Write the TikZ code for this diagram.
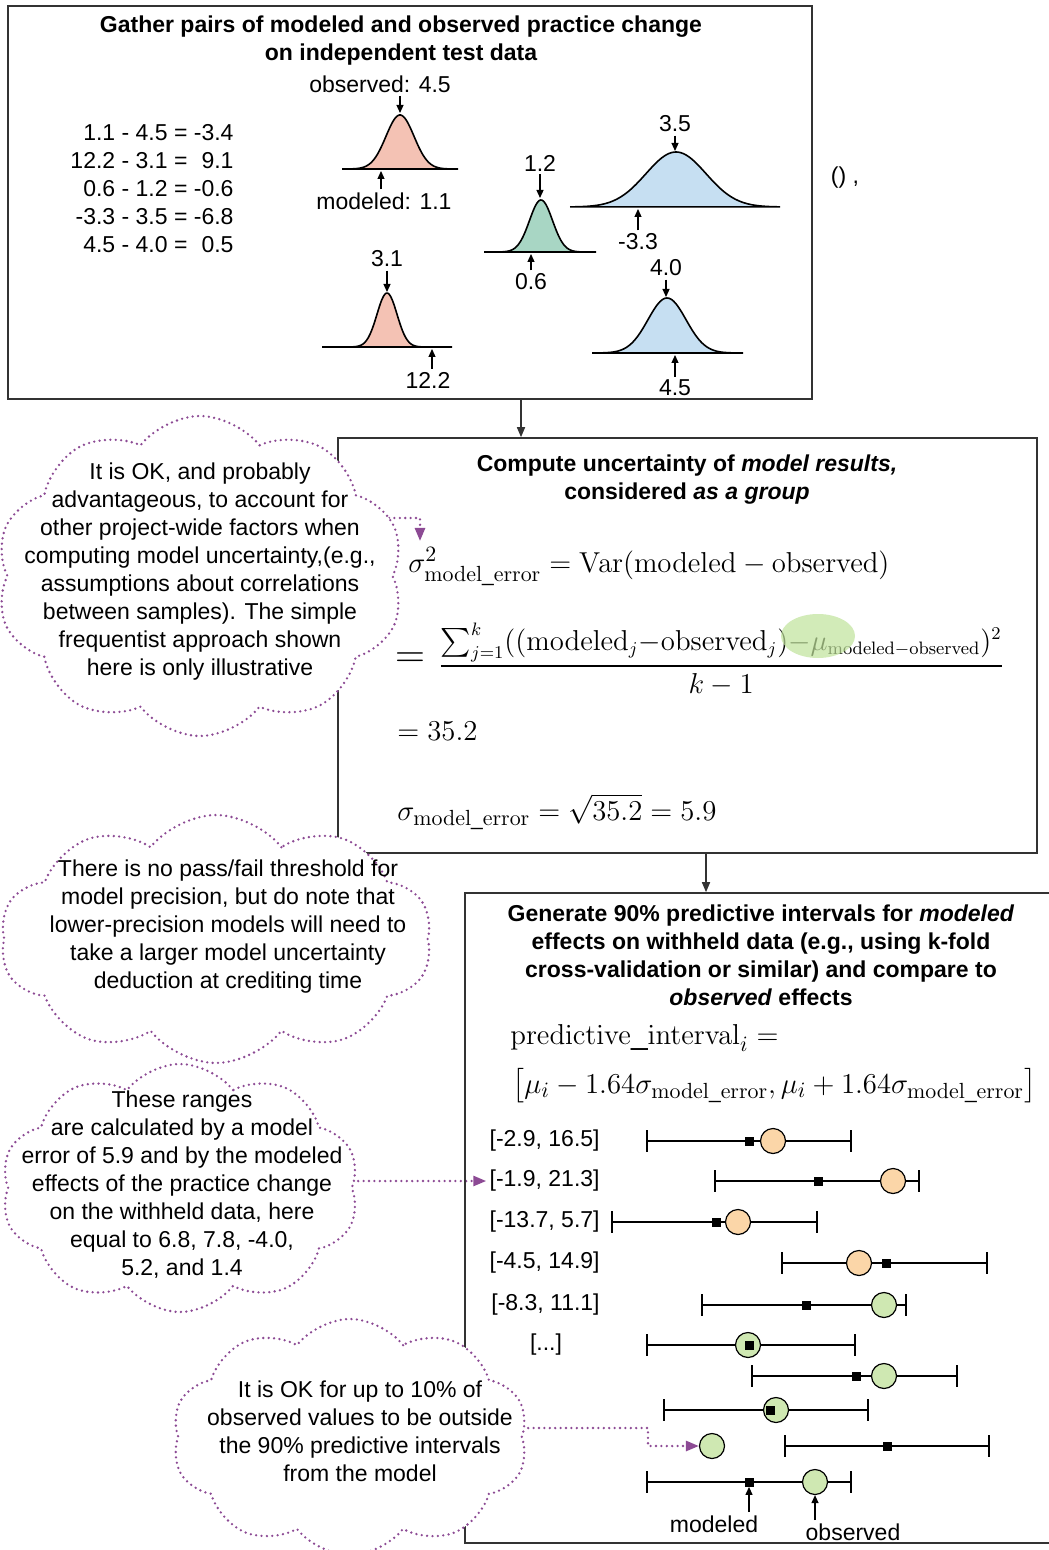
\documentclass[tikz,border=0pt]{standalone}
\usepackage{amsmath}
\usepackage[no-math]{fontspec}
\setmainfont{Liberation Sans}
\usetikzlibrary{positioning, calc, shapes.symbols, arrows.meta, backgrounds}

\definecolor{pinkfill}{HTML}{F4C2B4}
\definecolor{tealfill}{HTML}{A8D6C4}
\definecolor{bluefill}{HTML}{C6DFF2}
\definecolor{orangefill}{HTML}{FBD6A8}
\definecolor{greenfill}{HTML}{CFE8B2}
\definecolor{markgreen}{HTML}{BFE29A}
\definecolor{notepurple}{HTML}{8C4A94}
\definecolor{frame}{HTML}{333333}

\tikzset{
  box/.style={draw=frame, line width=0.8pt, inner sep=0pt},
  heading/.style={font=\fontsize{11.5}{14}\selectfont\bfseries, align=center, inner sep=0pt},
  lbl/.style={font=\fontsize{11.5}{14}\selectfont, inner sep=1.5pt},
  eqn/.style={font=\fontsize{15}{18}\selectfont, anchor=base west, inner sep=0pt},
  pointer/.style={-{Triangle[length=4pt,width=3.5pt]}, line width=0.6pt},
  flow/.style={-{Triangle[length=5pt,width=4pt]}, draw=frame, line width=0.8pt},
  bump/.style={line width=0.8pt},
  whisker/.style={line width=0.6pt},
  obs/.style={circle, draw, line width=0.6pt, minimum size=12.5pt, inner sep=0pt},
  mod/.style={rectangle, fill=black, minimum size=4.5pt, inner sep=0pt},
  cloudy/.style={cloud, cloud puffs=10, cloud puff arc=105, cloud ignores aspect, draw=notepurple, fill=white,
    line width=1.3pt, dash pattern=on 0pt off 2.7pt, line cap=round, inner sep=0pt},
  note/.style={font=\fontsize{11.5}{14}\selectfont, align=center, inner sep=0pt},
  hint/.style={draw=notepurple, line width=1.3pt, dash pattern=on 0pt off 2.7pt, line cap=round,
    -{Triangle[length=6.5pt,width=5pt,fill=notepurple]}}
}

\begin{document}
\begin{tikzpicture}[x=0.5pt, y=-0.5pt, font=\fontsize{11.5}{14}\selectfont]
\useasboundingbox (0,0) rectangle (1048,1550);

% step 1: pairs
\node (gather) at (410,202.5) [box, minimum width=402pt, minimum height=196.5pt] {};
\node (gatherhead) at (401,41) [heading] {Gather pairs of modeled and observed practice change\\on independent test data};
\node (diffs) at (152,191) [lbl] {\begin{tabular}{@{}r@{ = }r@{}}
  1.1 - 4.5 & -3.4\\ 12.2 - 3.1 & 9.1\\ 0.6 - 1.2 & -0.6\\ -3.3 - 3.5 & -6.8\\ 4.5 - 4.0 & 0.5
\end{tabular}};
\node (stray) at (845,178) [lbl] {()~,};

\foreach \bs/\m/\sd/\h/\lo/\hi/\col in {169/400/14/54/342/458/pinkfill, 252/541/11.5/52/484/596/tealfill,
  207/676/30/55/570/780/bluefill, 347/387/10/54/322/452/pinkfill, 353/667/19/55/592/743/bluefill}
  \draw[bump, fill=\col] plot[domain=\lo:\hi, samples=90, smooth]
    (\x, {\bs-\h*exp(-0.5*((\x-\m)/\sd)*((\x-\m)/\sd))}) -- cycle;

\coordinate (peakA) at (400,113); \coordinate (footA) at (381,171);
\coordinate (peakB) at (540,198); \coordinate (footB) at (531,254);
\coordinate (peakC) at (675,151); \coordinate (footC) at (638,209);
\coordinate (peakD) at (387,292); \coordinate (footD) at (432,349);
\coordinate (peakE) at (666,297); \coordinate (footE) at (675,355);

\node (obsA) at (380,84) [lbl] {observed: 4.5};
\node (modA) at (384,201) [lbl] {modeled: 1.1};
\node (obsB) at (540,163) [lbl] {1.2};
\node (modB) at (531,282) [lbl] {0.6};
\node (obsC) at (675,124) [lbl] {3.5};
\node (modC) at (638,242) [lbl] {-3.3};
\node (obsD) at (387,259) [lbl] {3.1};
\node (modD) at (428,380) [lbl] {12.2};
\node (obsE) at (666,268) [lbl] {4.0};
\node (modE) at (675,388) [lbl] {4.5};

\draw[pointer] (obsA.south -| peakA) -- (peakA);
\draw[pointer] (modA.north -| footA) -- (footA);
\draw[pointer] (obsB.south -| peakB) -- (peakB);
\draw[pointer] (modB.north -| footB) -- (footB);
\draw[pointer] (obsC.south -| peakC) -- (peakC);
\draw[pointer] (modC.north -| footC) -- (footC);
\draw[pointer] (obsD.south -| peakD) -- (peakD);
\draw[pointer] (modD.north -| footD) -- (footD);
\draw[pointer] (obsE.south -| peakE) -- (peakE);
\draw[pointer] (modE.north -| footE) -- (footE);

% step 2: uncertainty
\node (compute) at (687.5,645.5) [box, minimum width=349.5pt, minimum height=207.5pt] {};
\node (computehead) at (687,480) [heading] {Compute uncertainty of \textit{model results,}\\considered \textit{as a group}};
\node (vareq) at (408,572) [eqn] {$\sigma^2_{\mathrm{model\_error}} = \mathrm{Var}(\mathrm{modeled} - \mathrm{observed})$};
\node (bigeq) at (410,660) [font=\fontsize{22}{22}\selectfont, inner sep=0pt] {$=$};
\node (fraceq) at (438,659) [eqn, anchor=west, font=\fontsize{13.5}{16}\selectfont] {$\dfrac{\sum_{j=1}^{k}((\mathrm{modeled}_j{-}\mathrm{observed}_j){-}\mu_{\mathrm{modeled-observed}})^2}{k-1}$};
\node (valeq) at (397,740) [eqn] {$= 35.2$};
\node (sdeq) at (397,820) [eqn] {$\sigma_{\mathrm{model\_error}} = \sqrt{35.2} = 5.9$};
\fill[markgreen, opacity=0.7] (818,636) ellipse [x radius=18.5pt, y radius=11pt];

% step 3: intervals
\node (predict) at (767.5,1218) [box, minimum width=302.5pt, minimum height=325pt] {};
\node (predicthead) at (761,955) [heading] {Generate 90\% predictive intervals for \textit{modeled}\\effects on withheld data (e.g., using k-fold\\cross-validation or similar) and compare to\\\textit{observed} effects};
\node (pieq) at (510,1044) [eqn] {$\mathrm{predictive\_interval}_i =$};
\node (boundeq) at (512,1093) [eqn] {$\bigl[\mu_i - 1.64\sigma_{\mathrm{model\_error}}, \mu_i + 1.64\sigma_{\mathrm{model\_error}}\bigr]$};

\node (r1) at (603,1141) [lbl, anchor=east] {[-2.9, 16.5]};
\node (r2) at (603,1181) [lbl, anchor=east] {[-1.9, 21.3]};
\node (r3) at (603,1222) [lbl, anchor=east] {[-13.7, 5.7]};
\node (r4) at (603,1263) [lbl, anchor=east] {[-4.5, 14.9]};
\node (r5) at (603,1305) [lbl, anchor=east] {[-8.3, 11.1]};
\node (r6) at (546,1345) [lbl] {[...]};

\foreach \n/\y/\lo/\hi/\m/\ob/\col in {1/1141/647/851/749/773/orangefill, 2/1181/715/919/818/893/orangefill,
  3/1222/612/817/716/738/orangefill, 4/1263/782/987/886/859/orangefill, 5/1305/702/906/806/884/greenfill,
  6/1345/647/855/749/748/greenfill, 7/1376/752/957/856/884/greenfill, 8/1410/664/868/770/776/greenfill,
  9/1446/785/989/887/712/greenfill, 10/1482/647/851/749/815/greenfill}
{
  \draw[whisker] (\lo,\y-11) -- (\lo,\y+11) (\lo,\y) -- (\hi,\y) (\hi,\y-11) -- (\hi,\y+11);
  \node (o\n) at (\ob,\y) [obs, fill=\col] {};
  \node (m\n) at (\m,\y) [mod] {};
}

\node (modlab) at (714,1524) [lbl] {modeled};
\node (obslab) at (853,1532) [lbl] {observed};
\draw[pointer] (modlab.north -| m10) -- (m10.south);
\draw[pointer] (obslab.north -| o10) -- (o10.south);

% notes
\node (cloud1) at (200,576) [cloudy, minimum width=204pt, minimum height=160pt] {};
\node (cloud1text) at (200,572) [note] {It is OK, and probably\\advantageous, to account for\\other project-wide factors when\\computing model uncertainty,(e.g.,\\assumptions about correlations\\between samples). The simple\\frequentist approach shown\\here is only illustrative};
\node (cloud2) at (216,939) [cloudy, minimum width=216pt, minimum height=124pt] {};
\node (cloud2text) at (228,927) [note] {There is no pass/fail threshold for\\model precision, but do note that\\lower-precision models will need to\\take a larger model uncertainty\\deduction at crediting time};
\node (cloud3) at (180,1188) [cloudy, minimum width=179pt, minimum height=124pt] {};
\node (cloud3text) at (182,1185) [note] {These ranges\\are calculated by a model\\error of 5.9 and by the modeled\\effects of the practice change\\on the withheld data, here\\equal to 6.8, 7.8, -4.0,\\5.2, and 1.4};
\node (cloud4) at (350,1437) [cloudy, minimum width=178pt, minimum height=118pt] {};
\node (cloud4text) at (360,1431) [note] {It is OK for up to 10\% of\\observed values to be outside\\the 90\% predictive intervals\\from the model};

\coordinate (bend1) at (420,518);
\coordinate (into2) at (420,541);
\coordinate (bend3) at (648,1428);
\begin{pgfonlayer}{background}
  \draw[hint] (cloud1.center |- bend1) -- (bend1) -- (into2);
  \draw[hint] (cloud3.center |- r2) -- (r2.west);
  \draw[hint] (cloud4.center |- bend3) -- (bend3) |- (o9.west);
\end{pgfonlayer}

% step links
\coordinate (link1) at (521,0);
\coordinate (link2) at (706,0);
\draw[flow] (gather.south -| link1) -- (compute.north -| link1);
\draw[flow] (compute.south -| link2) -- (predict.north -| link2);
\end{tikzpicture}
\end{document}
